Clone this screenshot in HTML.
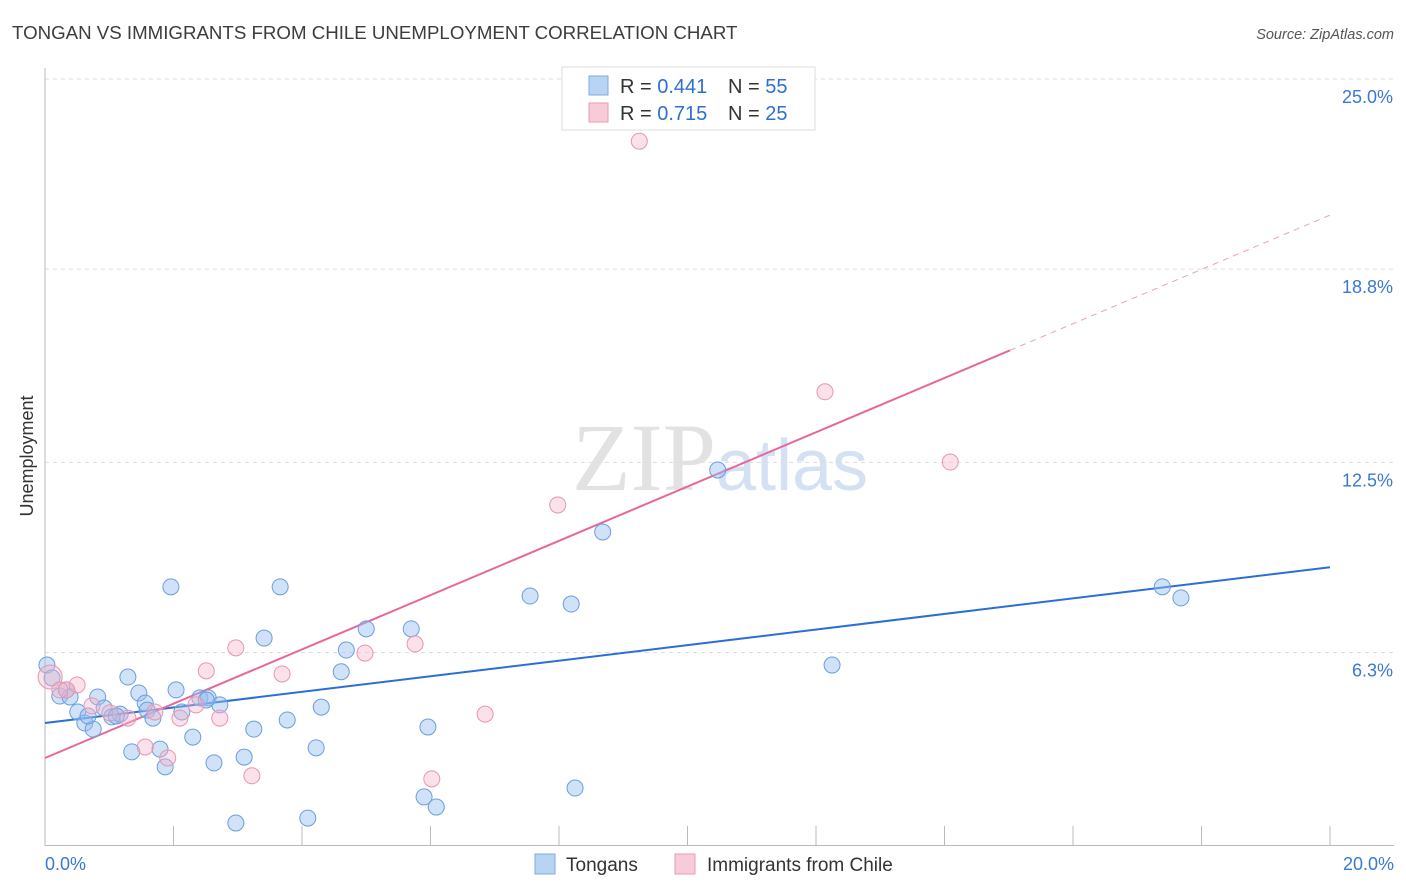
<!DOCTYPE html>
<html><head><meta charset="utf-8"><style>
body{margin:0;background:#fff;font-family:"Liberation Sans",sans-serif;}
svg{display:block}
</style></head><body>
<svg id="chart" width="1406" height="892" viewBox="0 0 1406 892">
<text x="12" y="39" font-size="18.7" fill="#3c3c3c">TONGAN VS IMMIGRANTS FROM CHILE UNEMPLOYMENT CORRELATION CHART</text>
<text x="1394" y="39" font-size="14.5" fill="#555" font-style="italic" text-anchor="end">Source: ZipAtlas.com</text>
<text x="720" y="490" font-size="96" text-anchor="middle" fill="#e2e2e2" font-family="Liberation Serif, serif">ZIP<tspan fill="#d3e1f3" font-family="Liberation Sans, sans-serif" font-size="72">atlas</tspan></text>
<g id="grid"></g><g id="axes"></g><g id="lines"></g><g id="pts"></g>
<text transform="translate(33,456) rotate(-90)" font-size="18" fill="#333" text-anchor="middle">Unemployment</text>
<g>
<rect x="562" y="67" width="253" height="63" fill="#fff" stroke="#ddd"/>
<rect x="589" y="76" width="19" height="19" fill="#b9d3f3" stroke="#7ea8e0"/>
<rect x="589" y="103" width="19" height="19" fill="#f8cbd8" stroke="#eb9ab4"/>
<text x="620" y="93" font-size="20" fill="#333">R = <tspan fill="#2f6fd1">0.441</tspan></text>
<text x="728" y="93" font-size="20" fill="#333">N = <tspan fill="#2f6fd1">55</tspan></text>
<text x="620" y="120" font-size="20" fill="#333">R = <tspan fill="#2f6fd1">0.715</tspan></text>
<text x="728" y="120" font-size="20" fill="#333">N = <tspan fill="#2f6fd1">25</tspan></text>
</g>
<g>
<rect x="535" y="854" width="20" height="20" fill="#b9d3f3" stroke="#7ea8e0"/>
<text x="566" y="871" font-size="19" fill="#333">Tongans</text>
<rect x="675" y="854" width="20" height="20" fill="#f8cbd8" stroke="#eb9ab4"/>
<text x="707" y="871" font-size="19" fill="#333">Immigrants from Chile</text>
</g>
</svg>
<script>
const yTicks=[25.0,18.8,12.5,6.3];
const yTickLabels=["25.0%","18.8%","12.5%","6.3%"];
const xTickLabels=["0.0%","20.0%"];
const blueX=[0.03,0.11,0.23,0.33,0.39,0.51,0.62,0.75,0.82,0.92,1.04,1.17,1.29,1.35,1.46,1.56,1.59,1.68,1.79,1.87,1.96,2.04,2.13,2.30,2.41,2.54,2.63,2.72,2.97,3.10,3.25,3.41,3.66,3.77,4.09,4.22,4.30,4.61,4.69,5.00,5.70,5.90,5.96,6.09,7.55,8.19,8.25,8.68,10.47,12.25,17.39,17.68,0.67,1.11,2.51];
const blueY=[5.89,5.47,4.88,5.08,4.85,4.36,4.00,3.80,4.85,4.49,4.20,4.29,5.50,3.06,4.98,4.65,4.42,4.16,3.15,2.57,8.44,5.08,4.36,3.54,4.82,4.82,2.70,4.59,0.74,2.89,3.80,6.77,8.44,4.10,0.90,3.19,4.52,5.67,6.38,7.07,7.07,1.59,3.87,1.26,8.14,7.88,1.88,10.23,12.25,5.89,8.44,8.08,4.23,4.23,4.75];
const pinkX=[0.08,0.34,0.50,0.73,1.29,1.56,1.71,1.91,2.10,2.35,2.51,2.72,2.97,3.22,3.69,4.98,5.76,6.02,6.85,7.98,9.25,12.14,14.09,0.23,1.01];
const pinkY=[5.50,5.08,5.24,4.56,4.16,3.22,4.36,2.86,4.16,4.59,5.70,4.16,6.45,2.28,5.60,6.28,6.58,2.18,4.29,11.11,22.97,14.80,12.51,5.08,4.33];
const blueTrend=[4.0,0.254];
const pinkTrend=[2.86,0.885];
const pinkSolidEnd=15.02;
const NS="http://www.w3.org/2000/svg";
const X=v=>45+v*64.25, Y=v=>845.7-v*30.67;
function mk(tag,attrs,parent){const e=document.createElementNS(NS,tag);for(const k in attrs)e.setAttribute(k,attrs[k]);document.getElementById(parent).appendChild(e);return e;}
let e;
e=mk('line',{x1:45,y1:79,x2:1394,y2:79,stroke:'#ddd','stroke-dasharray':'4,4'},'grid');


yTicks.forEach((t,i)=>{
 if(i>0){e=mk('line',{x1:45,y1:Y(t),x2:1394,y2:Y(t),stroke:'#ddd','stroke-dasharray':'4,4'},'grid');
 
 }
 e=mk('text',{x:1393,y:Y(t)+24,'font-size':18,fill:'#3a78d4','text-anchor':'end'},'axes');
 e.textContent=yTickLabels[i];
 
 
});
e=mk('line',{x1:45,y1:68,x2:45,y2:846,stroke:'#bbb'},'axes');


e=mk('line',{x1:45,y1:845.5,x2:1394,y2:845.5,stroke:'#bbb'},'axes');


for(let v=2;v<=20;v+=2){e=mk('line',{x1:X(v),y1:826,x2:X(v),y2:845,stroke:'#bbb'},'axes');
 
 }
e=mk('text',{x:45,y:870,'font-size':18,fill:'#3a78d4'},'axes');e.textContent=xTickLabels[0];


e=mk('text',{x:1394,y:870,'font-size':18,fill:'#3a78d4','text-anchor':'end'},'axes');e.textContent=xTickLabels[1];


blueX.forEach((x,i)=>{e=mk('circle',{cx:X(x),cy:Y(blueY[i]),r:8,fill:'rgba(150,190,240,0.45)',stroke:'#6b9de0','stroke-width':1},'pts');
 
 });
pinkX.forEach((x,i)=>{e=mk('circle',{cx:X(x),cy:Y(pinkY[i]),r:i==0?12:8,fill:'rgba(245,180,200,0.4)',stroke:'#e895b0','stroke-width':1},'pts');
 
 });
e=mk('line',{x1:X(0),y1:Y(blueTrend[0]),x2:X(20),y2:Y(blueTrend[0]+blueTrend[1]*20),stroke:'#2a6fd6','stroke-width':2},'lines');


e=mk('line',{x1:X(0),y1:Y(pinkTrend[0]),x2:X(pinkSolidEnd),y2:Y(pinkTrend[0]+pinkTrend[1]*pinkSolidEnd),stroke:'#e8679a','stroke-width':2},'lines');


e=mk('line',{x1:X(pinkSolidEnd),y1:Y(pinkTrend[0]+pinkTrend[1]*pinkSolidEnd),x2:X(20),y2:Y(pinkTrend[0]+pinkTrend[1]*20),stroke:'#eaa0bc','stroke-width':1,'stroke-dasharray':'6,5'},'lines');


</script>
</body></html>
